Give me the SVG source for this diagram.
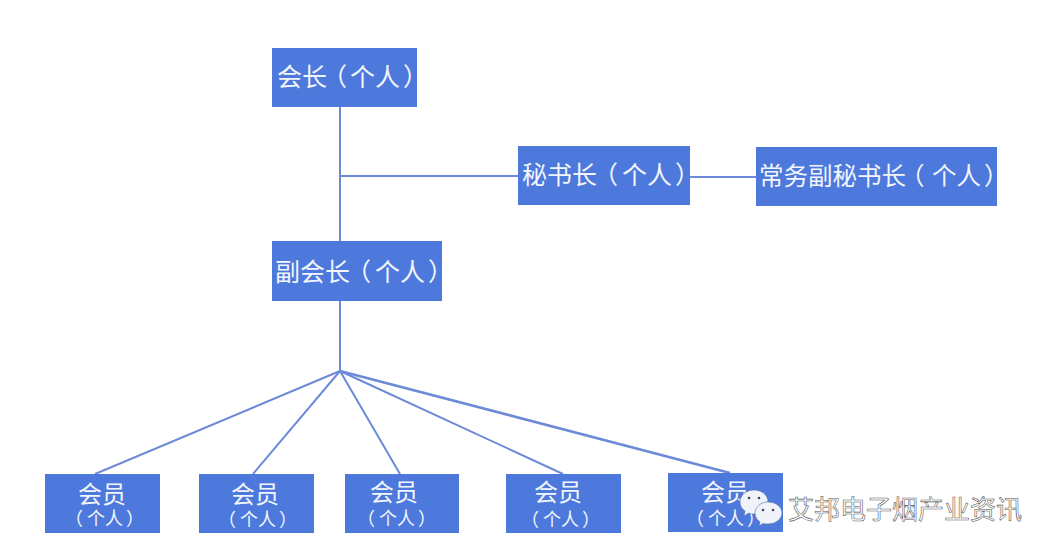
<svg xmlns="http://www.w3.org/2000/svg" width="1056" height="556" viewBox="0 0 1056 556">
<style>
.b{fill:#4d79dc}
.c{stroke:#6c8ad8;stroke-width:2;fill:none}
.h{stroke:#6c8ad8;stroke-width:2.6;fill:none}
text{font-family:"Noto Sans CJK SC","Liberation Sans",sans-serif;fill:#f2f5fc}
.t{font-size:25px}
.u{font-size:24.5px}
.m{font-size:24px}
.s{font-size:18px}
.w{fill:#fff;font-size:26px;stroke:#555;stroke-width:.55px}
.e{fill:#3a4a5c}
.i{fill:#f0f4fa;stroke:#4d6f9c;stroke-width:.6}
</style>
<rect width="1056" height="556" fill="#fff"/>
<g id="connectors">
<path class="c" d="M340 107V241M340 176H518M690 177H756M340 301V371M340 371L95 474M340 371L253 474M340 371L400 474M340 371L563 474"/>
<path class="h" d="M340 371L730 473"/>
</g>
<g id="n1"><rect class="b" x="272" y="48" width="145" height="59"/><text class="t" x="277" y="86" dx="0 0 -5 3 0 3">会长（个人）</text></g>
<g id="n2"><rect class="b" x="518" y="146" width="172" height="59"/><text class="t" x="522" y="184" dx="0 0 0 -4 4 0 3">秘书长（个人）</text></g>
<g id="n3"><rect class="b" x="756" y="147" width="241" height="59"/><text class="u" x="759" y="185" dx="0 0 0 0 0 0 -6 7.5 0 3">常务副秘书长（个人）</text></g>
<g id="n4"><rect class="b" x="272" y="241" width="170" height="60"/><text class="t" x="275" y="281" dx="0 0 0 -4 4 0 3">副会长（个人）</text></g>
<g id="m1"><rect class="b" x="45" y="474" width="115" height="59"/><text class="m" x="78" y="503">会员</text><text class="s" x="65" y="525" dx="0 4 0 3">（个人）</text></g>
<g id="m2"><rect class="b" x="199" y="474" width="115" height="59"/><text class="m" x="231" y="503">会员</text><text class="s" x="218" y="526" dx="0 4 0 3">（个人）</text></g>
<g id="m3"><rect class="b" x="345" y="474" width="114" height="59"/><text class="m" x="370" y="501">会员</text><text class="s" x="357" y="525" dx="0 4 0 3">（个人）</text></g>
<g id="m4"><rect class="b" x="506" y="474" width="115" height="59"/><text class="m" x="534" y="501">会员</text><text class="s" x="521" y="526" dx="0 4 0 3">（个人）</text></g>
<g id="m5"><rect class="b" x="668" y="473" width="115" height="59"/><text class="m" x="701" y="501">会员</text><text class="s" x="686" y="525" dx="0 4 0 3">（个人）</text></g>
<g id="wm">
<path class="i" d="M754 490c8 0 14 5 14 12s-6 12-14 12c-2 0-3 0-5 -1l-5 3 1-5c-3-2-5-5-5-9 0-7 6-12 14-12z"/>
<circle class="e" cx="749" cy="498" r="1.3"/><circle class="e" cx="759" cy="498" r="1.3"/>
<path class="i" d="M768 502c8 0 14 5 14 11s-6 11-14 11c-2 0-3 0-5-.5l-4 2.5 1-4c-3-2-5-5-5-9 0-6 6-11 13-11z"/>
<circle class="e" cx="763" cy="510" r="1.3"/><circle class="e" cx="773" cy="510" r="1.3"/>
<text class="w" x="788" y="519">艾邦电子烟产业资讯</text></g>
</svg>
